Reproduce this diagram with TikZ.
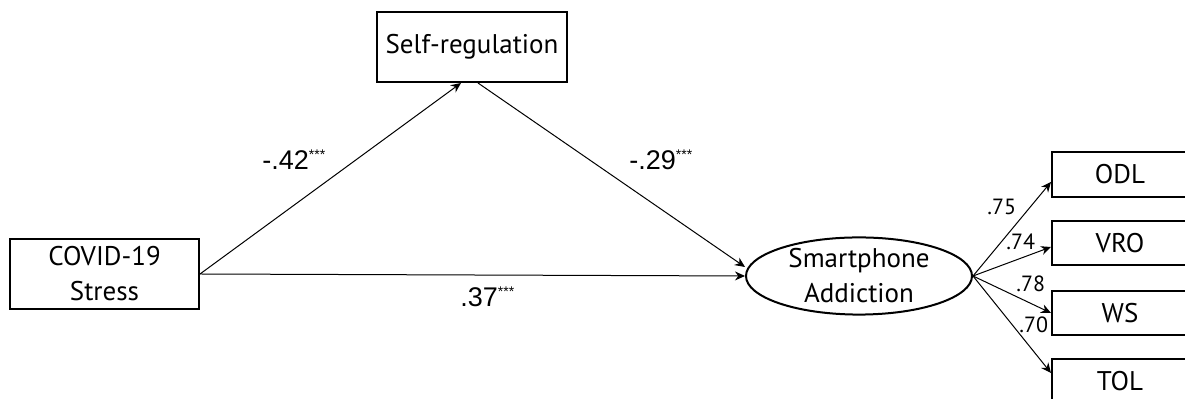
\documentclass[tikz,border=0pt]{standalone}
\usepackage{fontspec}
\usetikzlibrary{arrows.meta,shapes.geometric}
\newfontfamily\boxfont{PT Sans}
\newfontfamily\numfont{Liberation Sans}
\newcommand{\sig}{\textsuperscript{\fontsize{7}{7}\selectfont ***}}

\begin{document}
\begin{tikzpicture}[x=0.5pt,y=-0.5pt,
  varbox/.style={draw,line width=1pt,rectangle,inner sep=0pt,align=center,
    font=\boxfont\fontsize{13.5}{17.5}\selectfont},
  latent/.style={draw,line width=1pt,ellipse,inner sep=0pt,align=center,
    minimum width=113pt,minimum height=35pt,font=\boxfont\fontsize{13.5}{17.5}\selectfont},
  arr/.style={-{Stealth[length=5pt,width=4.5pt]},line width=0.5pt},
  coef/.style={anchor=base west,inner sep=0pt,font=\numfont\fontsize{13.5}{15}\selectfont},
  load/.style={anchor=base west,inner sep=0pt,font=\boxfont\fontsize{11}{13}\selectfont}]
  \useasboundingbox (0,0) rectangle (1185,399);
  \clip (0,0) rectangle (1185,399);
  % variables
  \node[varbox,minimum width=94.5pt,minimum height=35pt] (stress) at (104.5,274) {COVID-19\\Stress};
  \node[varbox,minimum width=95pt,minimum height=35pt] (selfreg) at (472,47) {Self-regulation};
  \node[latent] (addict) at (859,276) {Smartphone\\Addiction};
  \node[varbox,minimum width=68pt,minimum height=22.5pt] (odl) at (1120,174.5) {ODL};
  \node[varbox,minimum width=68pt,minimum height=22pt] (vro) at (1120,243) {VRO};
  \node[varbox,minimum width=68pt,minimum height=22pt] (ws) at (1120,313) {WS};
  \node[varbox,minimum width=68pt,minimum height=22pt] (tol) at (1120,381) {TOL};
  % paths
  \draw[arr] (stress.east) -- ([xshift=-5.5pt]selfreg.south);
  \draw[arr] ([xshift=3pt]selfreg.south) -- ([yshift=4.5pt]addict.west);
  \draw[arr] (stress.east) -- (addict.west);
  \draw[arr] (addict.east) -- ([yshift=-3.75pt]odl.west);
  \draw[arr] (addict.east) -- ([yshift=-2pt]vro.west);
  \draw[arr] (addict.east) -- (ws.west);
  \draw[arr] (addict.east) -- ([yshift=4pt]tol.west);
  % coefficients
  \node[coef] (c1) at (262,170) {-.42\sig};
  \node[coef] (c2) at (629,170) {-.29\sig};
  \node[coef] (c3) at (460,307) {.37\sig};
  \node[load] (l1) at (987,215) {.75};
  \node[load] (l2) at (1006,250) {.74};
  \node[load] (l3) at (1016,292) {.78};
  \node[load] (l4) at (1019,333) {.70};
\end{tikzpicture}
\end{document}
